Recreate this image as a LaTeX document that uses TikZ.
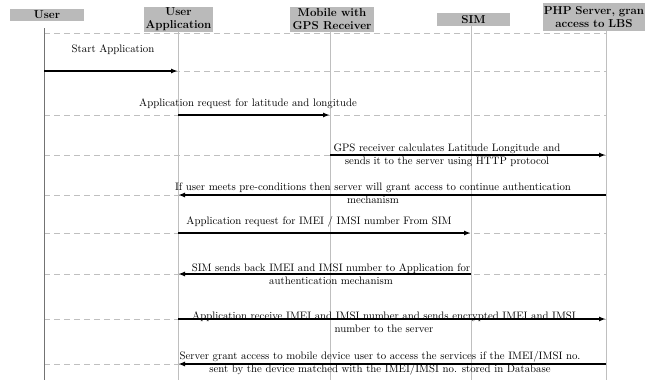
\documentclass[tikz,border=0pt]{standalone}
\usetikzlibrary{arrows.meta}
\begin{document}
\begin{tikzpicture}[x=1pt,y=-1pt,
    hdr/.style={fill=hbox,font=\fontsize{11.5}{13}\selectfont\bfseries,align=center,inner sep=0pt},
    life/.style={lgray,line width=0.9pt},
    sepline/.style={lgray,dash pattern=on 6pt off 4pt,line width=0.9pt},
    msg/.style={line width=1.5pt,-{Latex[length=7pt,width=5pt]}},
    txt/.style={font=\fontsize{10.8}{13}\selectfont,align=center,inner sep=0pt}]
        %colores
        \colorlet{hbox}{black!27}
        \colorlet{lgray}{black!25}
        \colorlet{dgray}{black!55}
        \useasboundingbox (0,0) rectangle (645,380);

        % Cabeceras
        \node[hdr,minimum width=74pt,minimum height=12pt] (user) at (47,15) {User};
        \node[hdr,minimum width=69pt,minimum height=25pt] (app) at (178.5,19.5) {User\\Application};
        \node[hdr,minimum width=84pt,minimum height=25pt] (mobile) at (332,19.5) {Mobile with\\GPS Receiver};
        \node[hdr,minimum width=73pt,minimum height=13pt] (sim) at (473.5,19.5) {SIM};
        \node[hdr,minimum width=102pt,minimum height=28pt,text width=102pt] (server) at (594,17) {PHP Server, gran\\access to LBS};

        % Lineas de vida
        \coordinate (userL) at (44,28);
        \coordinate (appL) at (178,32);
        \coordinate (mobL) at (330,32);
        \coordinate (simL) at (471,26);
        \coordinate (srvL) at (606,31);
        \coordinate (bottom) at (0,380);

        % Separadores
        \foreach \i/\y in {0/33,1/71,2/115,3/155,4/195,5/233,6/274,7/319,8/364}
            \coordinate (m\i) at (0,\y);
        \foreach \i in {0,...,8}
            \draw[sepline] (userL |- m\i) -- (srvL |- m\i);

        \draw[dgray,line width=0.9pt] (userL) -- (userL |- bottom);
        \foreach \l in {appL,mobL,simL,srvL}
            \draw[life] (\l) -- (\l |- bottom);

        % Mensajes
        \foreach \a/\b/\i in {userL/appL/1,appL/mobL/2,mobL/srvL/3,srvL/appL/4,
                              appL/simL/5,simL/appL/6,appL/srvL/7,srvL/appL/8}
            \draw[msg] (\a |- m\i) -- (\b |- m\i);

        % Textos
        \node[txt] (t1) at (113,50) {Start Application};
        \node[txt] (t2) at (248,104) {Application request for latitude and longitude};
        \node[txt] (t3) at (447,155.5) {GPS receiver calculates Latitude Longitude and\\sends it to the server using HTTP protocol};
        \node[txt] (t4) at (373,193.5) {If user meets pre-conditions then server will grant access to continue authentication\\mechanism};
        \node[txt] (t5) at (319,222) {Application request for IMEI / IMSI number From SIM};
        \node[txt] (t6) at (331,274.5) {SIM sends back IMEI and IMSI number to Application for\\authentication mechanism};
        \node[txt] (t7) at (384,322) {Application receive IMEI and IMSI number and sends encrypted IMEI and IMSI\\number to the server};
        \node[txt] (t8) at (380,363.5) {Server grant access to mobile device user to access the services if the IMEI/IMSI no.\\sent by the device matched with the IMEI/IMSI no. stored in Database};
    \end{tikzpicture}
\end{document}
